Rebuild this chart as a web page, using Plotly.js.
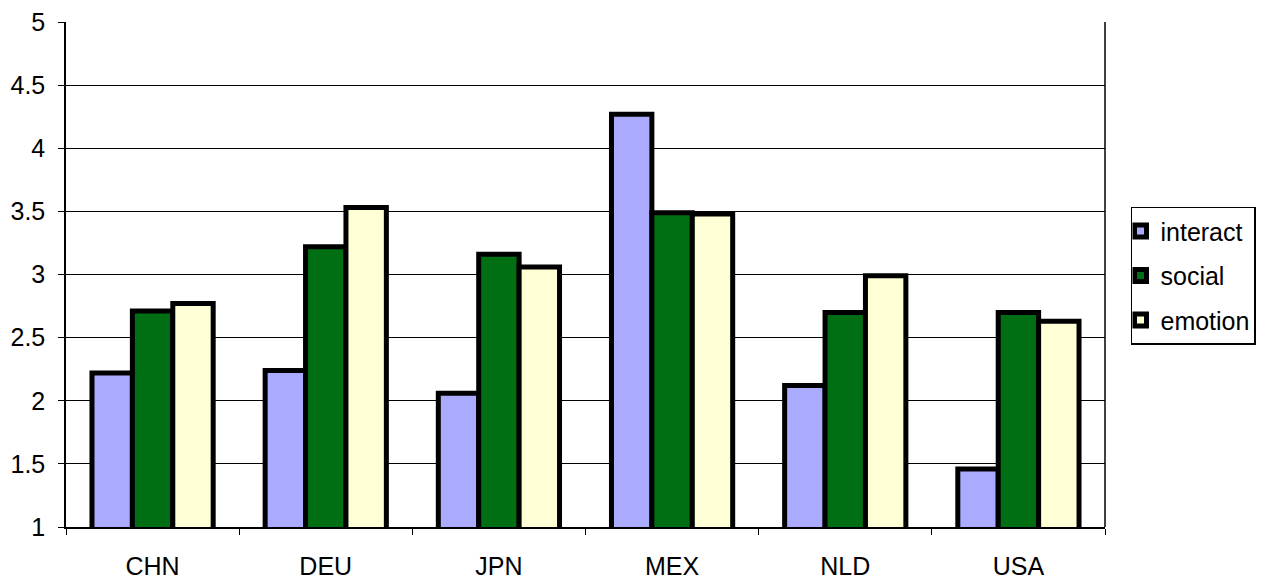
<!DOCTYPE html>
<html><head><meta charset="utf-8">
<script src="https://cdn.plot.ly/plotly-3.0.1.min.js"></script>
<style>html,body{margin:0;padding:0;background:#fff}#c{width:1266px;height:584px}</style>
</head><body><div id="c"></div>
<script>
const categories = ["CHN","DEU","JPN","MEX","NLD","USA"];
const interact = [2.22, 2.24, 2.06, 4.27, 2.12, 1.46];
const social   = [2.71, 3.22, 3.16, 3.49, 2.70, 2.70];
const emotion  = [2.77, 3.53, 3.06, 3.48, 2.99, 2.63];
const seriesNames = ["interact","social","emotion"];
const colors = ["#aaaaff","#006e12","#ffffd6"];
const vals = [interact, social, emotion];
const data = vals.map((v,i)=>({
  type:"bar", x:categories, y:v, name:seriesNames[i], legendgroup:"g"+i,
  marker:{color:colors[i], line:{color:"#000", width:5}}
}));
const F = "Liberation Sans, Arial, sans-serif";
const layout = {
  width:1266, height:584,
  margin:{l:66, r:161, t:22, b:57, autoexpand:false},
  paper_bgcolor:"#fff", plot_bgcolor:"#fff",
  font:{family:F, color:"#000", size:25},
  barmode:"group", bargap:0.3, bargroupgap:0,
  xaxis:{showline:true, linecolor:"#000", linewidth:1.5,
         ticks:"outside", tickson:"boundaries", ticklen:6, tickcolor:"#000",
         tickfont:{size:25, family:F}, showgrid:false, ticklabelstandoff:16},
  yaxis:{range:[1,5], dtick:0.5, showline:true, linecolor:"#000", linewidth:1.5,
         ticks:"outside", ticklen:6, tickcolor:"#000", gridcolor:"#000", gridwidth:1.2,
         tickfont:{size:25, family:F}, zeroline:false, ticklabelstandoff:8},
  shapes:[{type:"line", xref:"paper", yref:"paper", x0:1, x1:1, y0:0, y1:1, line:{color:"#000", width:1.5}}],
  legend:{x:1.025, y:0.634, xanchor:"left", yanchor:"top", bordercolor:"#000", borderwidth:1.5,
          font:{size:25, family:F}, traceorder:"grouped", tracegroupgap:9, itemwidth:30,
          indentation:-12},
  showlegend:true
};
Plotly.newPlot("c", data, layout, {displayModeBar:false});
</script></body></html>
